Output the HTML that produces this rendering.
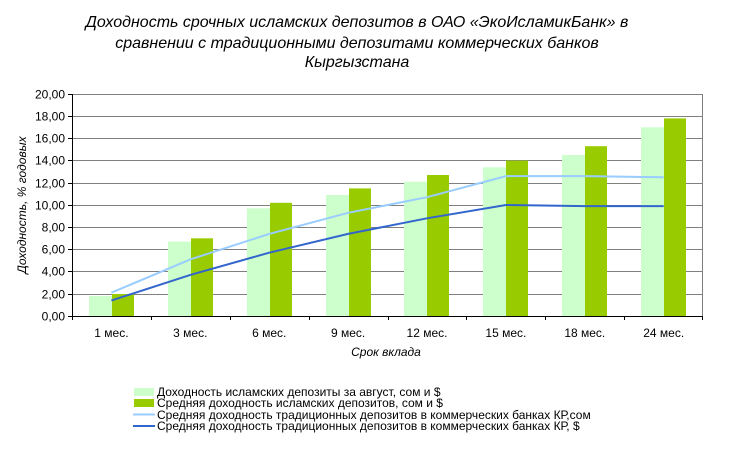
<!DOCTYPE html>
<html><head><meta charset="utf-8"><style>
html,body{margin:0;padding:0;background:#fff;}
svg{display:block;font-family:"Liberation Sans","DejaVu Sans",sans-serif;}
</style></head><body>
<svg width="730" height="450" viewBox="0 0 730 450" xmlns="http://www.w3.org/2000/svg">
<rect width="730" height="450" fill="#fff"/>
<g font-style="italic" font-size="16" fill="#000" text-anchor="middle">
<text x="357" y="27">Доходность срочных исламских депозитов в ОАО «ЭкоИсламикБанк» в</text>
<text x="357" y="48">сравнении с традиционными депозитами коммерческих банков</text>
<text x="357" y="67">Кыргызстана</text>
</g>
<g stroke="#808080" stroke-width="1">
<line x1="72" y1="94.5" x2="703" y2="94.5"/>
<line x1="72" y1="116.5" x2="703" y2="116.5"/>
<line x1="72" y1="138.5" x2="703" y2="138.5"/>
<line x1="72" y1="160.5" x2="703" y2="160.5"/>
<line x1="72" y1="183.5" x2="703" y2="183.5"/>
<line x1="72" y1="205.5" x2="703" y2="205.5"/>
<line x1="72" y1="227.5" x2="703" y2="227.5"/>
<line x1="72" y1="249.5" x2="703" y2="249.5"/>
<line x1="72" y1="271.5" x2="703" y2="271.5"/>
<line x1="72" y1="294.5" x2="703" y2="294.5"/>
<line x1="702.5" y1="94" x2="702.5" y2="316"/>
</g>
<g id="bars">
<rect x="89" y="296" width="23" height="20" fill="#ccffcc"/>
<rect x="112" y="294" width="22" height="22" fill="#99cc00"/>
<rect x="168" y="241.6" width="23" height="74.4" fill="#ccffcc"/>
<rect x="191" y="238.3" width="22" height="77.7" fill="#99cc00"/>
<rect x="247" y="208.3" width="23" height="107.7" fill="#ccffcc"/>
<rect x="270" y="202.8" width="22" height="113.2" fill="#99cc00"/>
<rect x="326" y="195" width="23" height="121" fill="#ccffcc"/>
<rect x="349" y="188.4" width="22" height="127.6" fill="#99cc00"/>
<rect x="404" y="181.7" width="23" height="134.3" fill="#ccffcc"/>
<rect x="427" y="175" width="22" height="141" fill="#99cc00"/>
<rect x="483" y="167.3" width="23" height="148.7" fill="#ccffcc"/>
<rect x="506" y="160.6" width="22" height="155.4" fill="#99cc00"/>
<rect x="562" y="155" width="23" height="161" fill="#ccffcc"/>
<rect x="585" y="146.2" width="22" height="169.8" fill="#99cc00"/>
<rect x="641" y="127.3" width="23" height="188.7" fill="#ccffcc"/>
<rect x="664" y="118.4" width="22" height="197.6" fill="#99cc00"/>
</g>
<polyline fill="none" stroke="#99ccff" stroke-width="2" points="111.4,292.7 190.3,259.4 269.2,233.9 348.1,212.8 427,197.2 505.9,176.1 584.8,176.1 663.7,177.3"/>
<polyline fill="none" stroke="#3366cc" stroke-width="2" points="111.4,300.5 190.3,274.9 269.2,252.7 348.1,233.9 427,218.3 505.9,205 584.8,206.1 663.7,206.1"/>
<g stroke="#000" stroke-width="1">
<line x1="72.5" y1="94" x2="72.5" y2="320"/>
<line x1="68" y1="316.5" x2="703" y2="316.5"/>
<line x1="68" y1="94.5" x2="72" y2="94.5"/>
<line x1="68" y1="116.5" x2="72" y2="116.5"/>
<line x1="68" y1="138.5" x2="72" y2="138.5"/>
<line x1="68" y1="160.5" x2="72" y2="160.5"/>
<line x1="68" y1="183.5" x2="72" y2="183.5"/>
<line x1="68" y1="205.5" x2="72" y2="205.5"/>
<line x1="68" y1="227.5" x2="72" y2="227.5"/>
<line x1="68" y1="249.5" x2="72" y2="249.5"/>
<line x1="68" y1="271.5" x2="72" y2="271.5"/>
<line x1="68" y1="294.5" x2="72" y2="294.5"/>
<line x1="151.5" y1="316" x2="151.5" y2="320"/>
<line x1="230.5" y1="316" x2="230.5" y2="320"/>
<line x1="309.5" y1="316" x2="309.5" y2="320"/>
<line x1="388.5" y1="316" x2="388.5" y2="320"/>
<line x1="466.5" y1="316" x2="466.5" y2="320"/>
<line x1="545.5" y1="316" x2="545.5" y2="320"/>
<line x1="624.5" y1="316" x2="624.5" y2="320"/>
<line x1="702.5" y1="316" x2="702.5" y2="320"/>
</g>
<g font-size="12" fill="#000" text-anchor="end">
<text x="65" y="98.5">20,00</text>
<text x="65" y="120.5">18,00</text>
<text x="65" y="142.5">16,00</text>
<text x="65" y="164.5">14,00</text>
<text x="65" y="187.5">12,00</text>
<text x="65" y="209.5">10,00</text>
<text x="65" y="231.5">8,00</text>
<text x="65" y="253.5">6,00</text>
<text x="65" y="275.5">4,00</text>
<text x="65" y="298.5">2,00</text>
<text x="65" y="320.5">0,00</text>
</g>
<g font-size="12" fill="#000" text-anchor="middle">
<text x="111.4" y="337">1 мес.</text>
<text x="190.3" y="337">3 мес.</text>
<text x="269.2" y="337">6 мес.</text>
<text x="348.1" y="337">9 мес.</text>
<text x="427" y="337">12 мес.</text>
<text x="505.9" y="337">15 мес.</text>
<text x="584.8" y="337">18 мес.</text>
<text x="663.7" y="337">24 мес.</text>
</g>
<text x="386" y="356" font-size="12" font-style="italic" text-anchor="middle">Срок вклада</text>
<text transform="translate(26,205) rotate(-90)" font-size="12" font-style="italic" text-anchor="middle">Доходность, % годовых</text>
<g font-size="12" fill="#000">
<rect x="134" y="388" width="20" height="8" fill="#ccffcc"/>
<text x="157" y="396">Доходность исламских депозиты за август, сом и $</text>
<rect x="134" y="399" width="20" height="8" fill="#99cc00"/>
<text x="157" y="407">Средняя доходность исламских депозитов, сом и $</text>
<line x1="133" y1="414.5" x2="155" y2="414.5" stroke="#99ccff" stroke-width="2"/>
<text x="157" y="419">Средняя доходность традиционных депозитов в коммерческих банках КР,сом</text>
<line x1="133" y1="426" x2="155" y2="426" stroke="#3366cc" stroke-width="2"/>
<text x="157" y="430">Средняя доходность традиционных депозитов в коммерческих банках КР, $</text>
</g>
</svg>
</body></html>
